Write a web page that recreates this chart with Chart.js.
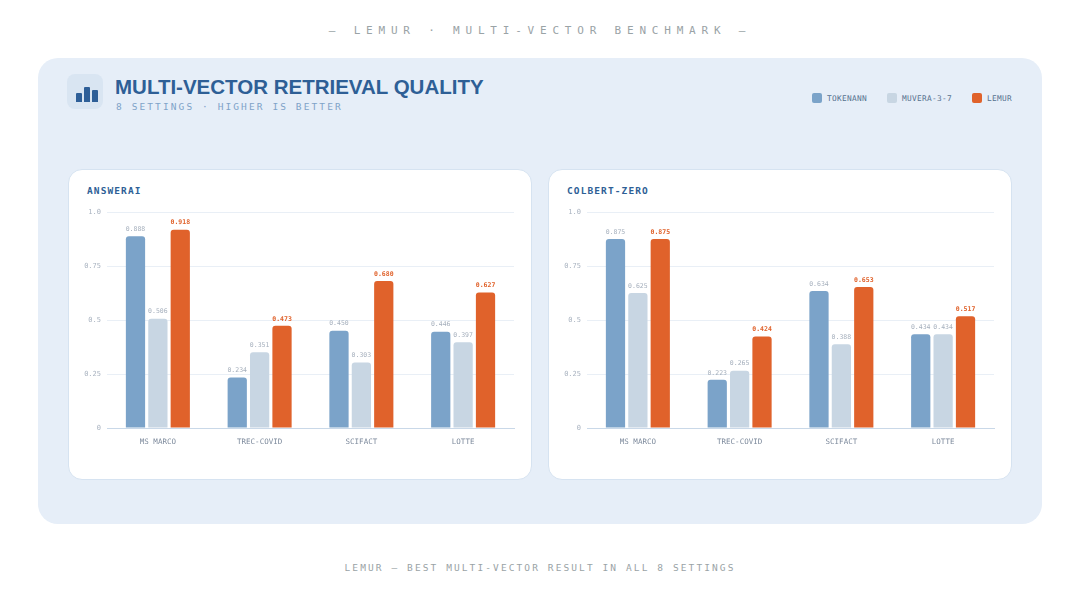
<!DOCTYPE html>
<html lang="en">
<head>
<meta charset="UTF-8">
<title>LEMUR multi-vector benchmark</title>
<script src="https://cdn.jsdelivr.net/npm/chart.js@4.4.1/dist/chart.umd.min.js"></script>
<style>
* { box-sizing: border-box; margin: 0; padding: 0; }
body {
  width: 1080px;
  height: 608px;
  background: #ffffff;
  position: relative;
  overflow: hidden;
  font-family: "DejaVu Sans Mono", monospace;
}
.top_note {
  position: absolute;
  top: 24px;
  left: 0;
  width: 1080px;
  text-align: center;
  font-size: 11px;
  letter-spacing: 5.8px;
  color: #9aa3a6;
}
.panel {
  position: absolute;
  left: 38px;
  top: 58px;
  width: 1004px;
  height: 466px;
  background: #e6eef8;
  border-radius: 20px;
}
.icon {
  position: absolute;
  left: 29px;
  top: 16px;
  width: 36px;
  height: 35px;
  border-radius: 8px;
  background: #d9e5f2;
}
.icon span {
  position: absolute;
  bottom: 7px;
  width: 6px;
  background: #2e5f98;
  border-radius: 1px 1px 0 0;
}
.title {
  position: absolute;
  left: 77px;
  top: 17px;
  font-family: "Liberation Sans", Arial, sans-serif;
  font-weight: bold;
  font-size: 20.5px;
  color: #2e5f96;
}
.subtitle {
  position: absolute;
  left: 78px;
  top: 43px;
  font-size: 9.5px;
  letter-spacing: 2.1px;
  color: #7fa3c8;
}
.legend {
  position: absolute;
  right: 30px;
  top: 35px;
  display: flex;
  align-items: center;
  font-size: 7.8px;
  letter-spacing: 0.3px;
  color: #56718f;
}
.legend .item { display: flex; align-items: center; margin-left: 20px; }
.legend .sw { width: 10px; height: 10px; border-radius: 2px; margin-right: 5px; }
.card {
  position: absolute;
  top: 111px;
  width: 464px;
  height: 311px;
  background: #ffffff;
  border: 1px solid #d6e3f1;
  border-radius: 14px;
}
.card h3 {
  position: absolute;
  left: 18px;
  top: 15px;
  font-size: 9.5px;
  font-weight: bold;
  letter-spacing: 1.1px;
  color: #2e5f96;
}
.chart_box {
  position: absolute;
  left: 9px;
  top: 30px;
  width: 442px;
  height: 255px;
}
.bottom_note {
  position: absolute;
  top: 562px;
  left: 0;
  width: 1080px;
  text-align: center;
  font-size: 9.5px;
  letter-spacing: 2.1px;
  color: #9aa3a6;
}
</style>
</head>
<body>
  <div class="top_note">— LEMUR · MULTI-VECTOR BENCHMARK —</div>

  <div class="panel">
    <div class="icon">
      <span style="left:9px;height:9px"></span>
      <span style="left:17px;height:15px"></span>
      <span style="left:25px;height:12px"></span>
    </div>
    <div class="title">MULTI-VECTOR RETRIEVAL QUALITY</div>
    <div class="subtitle">8 SETTINGS · HIGHER IS BETTER</div>
    <div class="legend" id="legend"></div>

    <div class="card" style="left:30px">
      <h3>ANSWERAI</h3>
      <div class="chart_box"><canvas id="chartA"></canvas></div>
    </div>
    <div class="card" style="left:510px">
      <h3>COLBERT-ZERO</h3>
      <div class="chart_box"><canvas id="chartB"></canvas></div>
    </div>
  </div>

  <div class="bottom_note">LEMUR — BEST MULTI-VECTOR RESULT IN ALL 8 SETTINGS</div>

<script>
/* ---------- data ---------- */
const categories = ["MS MARCO", "TREC-COVID", "SCIFACT", "LOTTE"];
const seriesNames = ["TOKENANN", "MUVERA-3-7", "LEMUR"];
const seriesColors = ["#7ba3c9", "#c8d6e3", "#e0622b"];

const answeraiTokenann = [0.888, 0.234, 0.450, 0.446];
const answeraiMuvera   = [0.506, 0.351, 0.303, 0.397];
const answeraiLemur    = [0.918, 0.473, 0.680, 0.627];

const colbertTokenann = [0.875, 0.223, 0.634, 0.434];
const colbertMuvera   = [0.625, 0.265, 0.388, 0.434];
const colbertLemur    = [0.875, 0.424, 0.653, 0.517];

const tickValues = [0, 0.25, 0.5, 0.75, 1];
const tickLabels = ["0", "0.25", "0.5", "0.75", "1.0"];

const MONO = "'DejaVu Sans Mono', monospace";

/* ---------- html legend ---------- */
const legend = document.getElementById("legend");
seriesNames.forEach((name, i) => {
  const item = document.createElement("div");
  item.className = "item";
  item.innerHTML = '<span class="sw" style="background:' + seriesColors[i] + '"></span>' + name;
  legend.appendChild(item);
});

/* ---------- value labels above bars ---------- */
const valueLabels = {
  id: "valueLabels",
  afterDatasetsDraw(chart) {
    const ctx = chart.ctx;
    ctx.save();
    ctx.textAlign = "center";
    ctx.textBaseline = "middle";
    chart.data.datasets.forEach((ds, di) => {
      const meta = chart.getDatasetMeta(di);
      const best = di === 2;
      ctx.font = (best ? "bold " : "") + "6.5px " + MONO;
      ctx.fillStyle = best ? "#e0622b" : "#a6b0bd";
      meta.data.forEach((bar, i) => {
        ctx.fillText(ds.data[i].toFixed(3), bar.x, bar.y - 7);
      });
    });
    ctx.restore();
  }
};

function makeChart(id, tokenann, muvera, lemur) {
  const values = [tokenann, muvera, lemur];
  return new Chart(document.getElementById(id), {
    type: "bar",
    plugins: [valueLabels],
    data: {
      labels: categories,
      datasets: seriesNames.map((name, i) => ({
        label: name,
        data: values[i],
        backgroundColor: seriesColors[i],
        borderRadius: 3,
        borderSkipped: "bottom",
        categoryPercentage: 0.66,
        barPercentage: 0.86
      }))
    },
    options: {
      responsive: true,
      maintainAspectRatio: false,
      animation: false,
      layout: { padding: { top: 12, right: 6, left: 0, bottom: 0 } },
      plugins: {
        legend: { display: false },
        tooltip: { enabled: false }
      },
      scales: {
        x: {
          grid: { display: false, drawTicks: false },
          border: { display: true, color: "#c9d8e8", width: 1 },
          ticks: {
            padding: 10,
            color: "#7d8a9c",
            font: { family: MONO, size: 7.5 }
          },
          afterFit: (scale) => { scale.height = 27; }
        },
        y: {
          min: 0,
          max: 1,
          afterBuildTicks: (scale) => {
            scale.ticks = tickValues.map((v) => ({ value: v }));
          },
          grid: { color: "#e9eff6", drawTicks: false },
          border: { display: false },
          ticks: {
            padding: 6,
            color: "#a9b3c0",
            font: { family: MONO, size: 7 },
            callback: (v) => tickLabels[tickValues.indexOf(v)]
          },
          afterFit: (scale) => { scale.width = 29; }
        }
      }
    }
  });
}

makeChart("chartA", answeraiTokenann, answeraiMuvera, answeraiLemur);
makeChart("chartB", colbertTokenann, colbertMuvera, colbertLemur);
</script>
</body>
</html>
